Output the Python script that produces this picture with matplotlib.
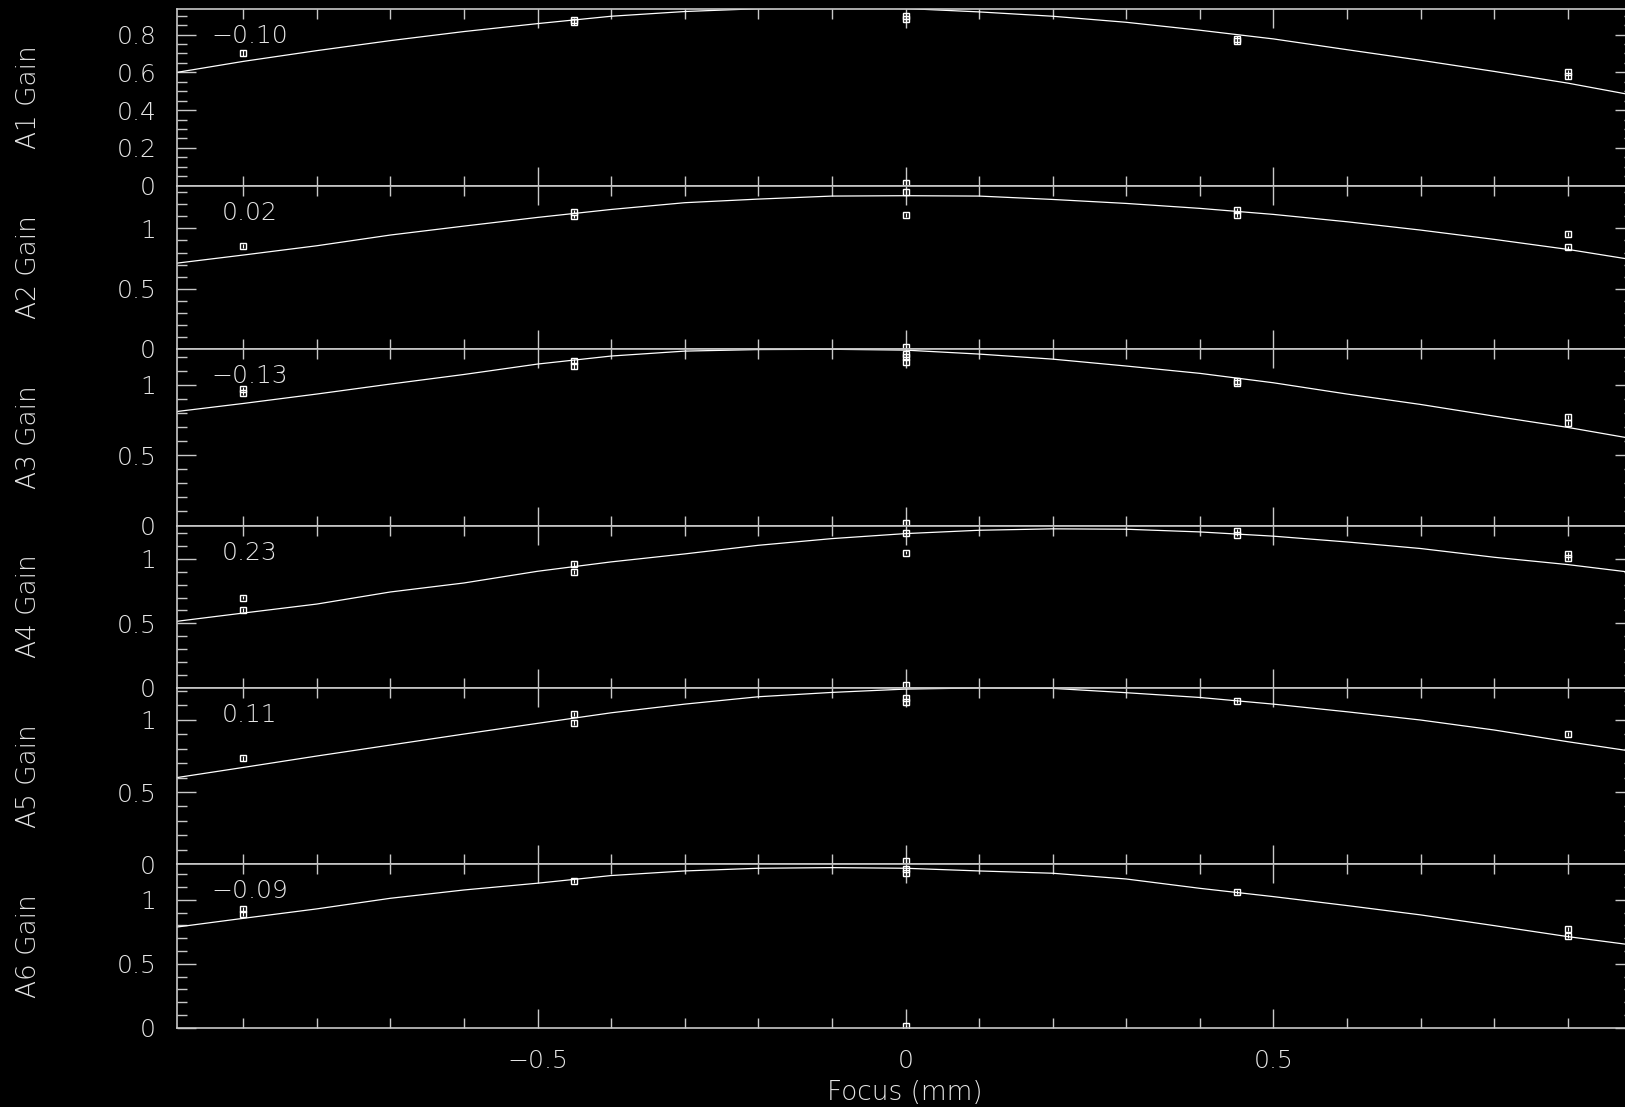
import matplotlib
matplotlib.use('Agg')
import matplotlib.pyplot as plt
from matplotlib.ticker import MultipleLocator, FuncFormatter

# Focus scan: gain of antennas A1..A6 against focus offset
panel_names = ['A1 Gain', 'A2 Gain', 'A3 Gain', 'A4 Gain', 'A5 Gain', 'A6 Gain']
best_focus = [-0.10, 0.02, -0.13, 0.23, 0.11, -0.09]
y_tops = [0.938, 1.354, 1.254, 1.26, 1.223, 1.279]
y_major = [0.2, 0.5, 0.5, 0.5, 0.5, 0.5]
y_minor = [0.05, 0.1, 0.1, 0.1, 0.1, 0.1]

# fitted curves
curve_x = [-0.99, -0.9, -0.8, -0.7, -0.6, -0.5, -0.4, -0.3, -0.2, -0.1, 0.0,
           0.1, 0.2, 0.3, 0.4, 0.5, 0.6, 0.7, 0.8, 0.9, 0.99]
curve_a1 = [0.600, 0.658, 0.715, 0.768, 0.816, 0.858, 0.897, 0.922, 0.937, 0.942, 0.938,
            0.920, 0.897, 0.865, 0.823, 0.777, 0.720, 0.664, 0.605, 0.543, 0.478]
curve_a2 = [0.712, 0.779, 0.856, 0.945, 1.019, 1.091, 1.157, 1.213, 1.243, 1.268, 1.271,
            1.268, 1.240, 1.207, 1.166, 1.116, 1.055, 0.986, 0.909, 0.826, 0.738]
curve_a3 = [0.810, 0.867, 0.934, 1.005, 1.073, 1.147, 1.204, 1.239, 1.250, 1.252, 1.246,
            1.218, 1.182, 1.133, 1.081, 1.014, 0.934, 0.860, 0.777, 0.697, 0.615]
curve_a4 = [0.515, 0.579, 0.649, 0.743, 0.813, 0.904, 0.977, 1.039, 1.106, 1.158, 1.197,
            1.223, 1.234, 1.231, 1.210, 1.177, 1.132, 1.081, 1.013, 0.956, 0.893]
curve_a5 = [0.600, 0.670, 0.749, 0.825, 0.901, 0.975, 1.048, 1.108, 1.159, 1.189, 1.212,
            1.220, 1.217, 1.187, 1.154, 1.108, 1.055, 0.998, 0.929, 0.848, 0.780]
curve_a6 = [0.788, 0.856, 0.930, 1.013, 1.078, 1.131, 1.191, 1.227, 1.248, 1.253, 1.248,
            1.227, 1.209, 1.164, 1.091, 1.026, 0.956, 0.883, 0.799, 0.713, 0.645]
curves = [curve_a1, curve_a2, curve_a3, curve_a4, curve_a5, curve_a6]

# measured points (focus, gain)
pts_x_a1 = [-0.9, -0.45, -0.45, 0.0, 0.0, 0.0, 0.45, 0.45, 0.9, 0.9]
pts_y_a1 = [0.703, 0.875, 0.865, 0.90, 0.88, 0.013, 0.775, 0.765, 0.60, 0.58]
pts_x_a2 = [-0.9, -0.45, -0.45, 0.0, 0.0, 0.0, 0.45, 0.45, 0.9, 0.9]
pts_y_a2 = [0.856, 1.14, 1.10, 1.30, 1.11, 0.02, 1.155, 1.11, 0.953, 0.843]
pts_x_a3 = [-0.9, -0.9, -0.45, -0.45, 0.0, 0.0, 0.0, 0.0, 0.45, 0.45, 0.9, 0.9]
pts_y_a3 = [0.97, 0.94, 1.17, 1.13, 1.22, 1.20, 1.16, 0.02, 1.03, 1.01, 0.77, 0.73]
pts_x_a4 = [-0.9, -0.9, -0.45, -0.45, 0.0, 0.0, 0.0, 0.45, 0.45, 0.9, 0.9]
pts_y_a4 = [0.70, 0.605, 0.96, 0.90, 1.20, 1.05, 0.02, 1.215, 1.19, 1.04, 1.01]
pts_x_a5 = [-0.9, -0.45, -0.45, 0.0, 0.0, 0.0, 0.45, 0.9]
pts_y_a5 = [0.733, 1.04, 0.98, 1.15, 1.12, 0.02, 1.13, 0.90]
pts_x_a6 = [-0.9, -0.9, -0.45, 0.0, 0.0, 0.0, 0.45, 0.9, 0.9]
pts_y_a6 = [0.93, 0.89, 1.15, 1.24, 1.21, 0.01, 1.06, 0.77, 0.72]
pts_x = [pts_x_a1, pts_x_a2, pts_x_a3, pts_x_a4, pts_x_a5, pts_x_a6]
pts_y = [pts_y_a1, pts_y_a2, pts_y_a3, pts_y_a4, pts_y_a5, pts_y_a6]
point_err = 0.015

x_range = (-0.99, 0.99)

plt.rcParams['font.family'] = ['DejaVu Sans']
plt.rcParams['font.weight'] = 200
plt.rcParams['axes.labelweight'] = 200
fg = '#e4e4e4'
axis_col = '#c8c8c8'

W, H = 1625, 1107
fig = plt.figure(figsize=(W / 100, H / 100), dpi=100, facecolor='black')

# panel edges in pixels (top to bottom)
edges = [8.5, 185.7, 349.0, 525.5, 687.5, 864.3, 1027.7]
left_px, right_px = 177, 1634

fmt = FuncFormatter(lambda v, p: ('%g' % round(v, 3)).replace('-', '\u2212'))

for i in range(6):
    top, bot = edges[i], edges[i + 1]
    ax = fig.add_axes([left_px / W, (H - bot) / H, (right_px - left_px) / W, (bot - top) / H])
    ax.set_facecolor('black')
    ax.plot(curve_x, curves[i], color='white', lw=0.9)
    ax.errorbar(pts_x[i], pts_y[i], yerr=point_err, fmt='s', ms=4.0, mfc='none',
                mec='white', mew=1.0, ecolor='white', elinewidth=0.9, capsize=0)
    ax.set_xlim(*x_range)
    ax.set_ylim(0, y_tops[i])

    ax.xaxis.set_major_locator(MultipleLocator(0.5))
    ax.xaxis.set_minor_locator(MultipleLocator(0.1))
    ax.yaxis.set_major_locator(MultipleLocator(y_major[i]))
    ax.yaxis.set_minor_locator(MultipleLocator(y_minor[i]))
    ax.xaxis.set_major_formatter(fmt)
    ax.yaxis.set_major_formatter(fmt)

    ax.tick_params(which='both', direction='in', top=True, right=True,
                   color=axis_col, labelcolor=fg, labelsize=18, width=1.0)
    ax.tick_params(which='major', length=14)
    ax.tick_params(which='minor', length=7)
    ax.tick_params(axis='y', pad=15)
    ax.tick_params(axis='x', pad=15, labelbottom=(i == 5))
    for s in ax.spines.values():
        s.set_color(axis_col)
        s.set_linewidth(1.2)

    ax.set_ylabel(panel_names[i], color=fg, fontsize=19, fontweight=200, va='center')
    ax.yaxis.set_label_coords((29 - left_px) / (right_px - left_px), 0.5)

    ax.annotate(('%.2f' % best_focus[i]).replace('-', '\u2212'),
                xy=((250 - left_px) / (right_px - left_px), 1.0), xycoords='axes fraction',
                xytext=(0, -19.5), textcoords='offset points',
                ha='center', va='center', color=fg, fontsize=18)

fig.text(905 / W, (H - 1092) / H, 'Focus (mm)', ha='center', va='center',
         color=fg, fontsize=19)

fig.savefig('out.png', dpi=100, facecolor='black')
